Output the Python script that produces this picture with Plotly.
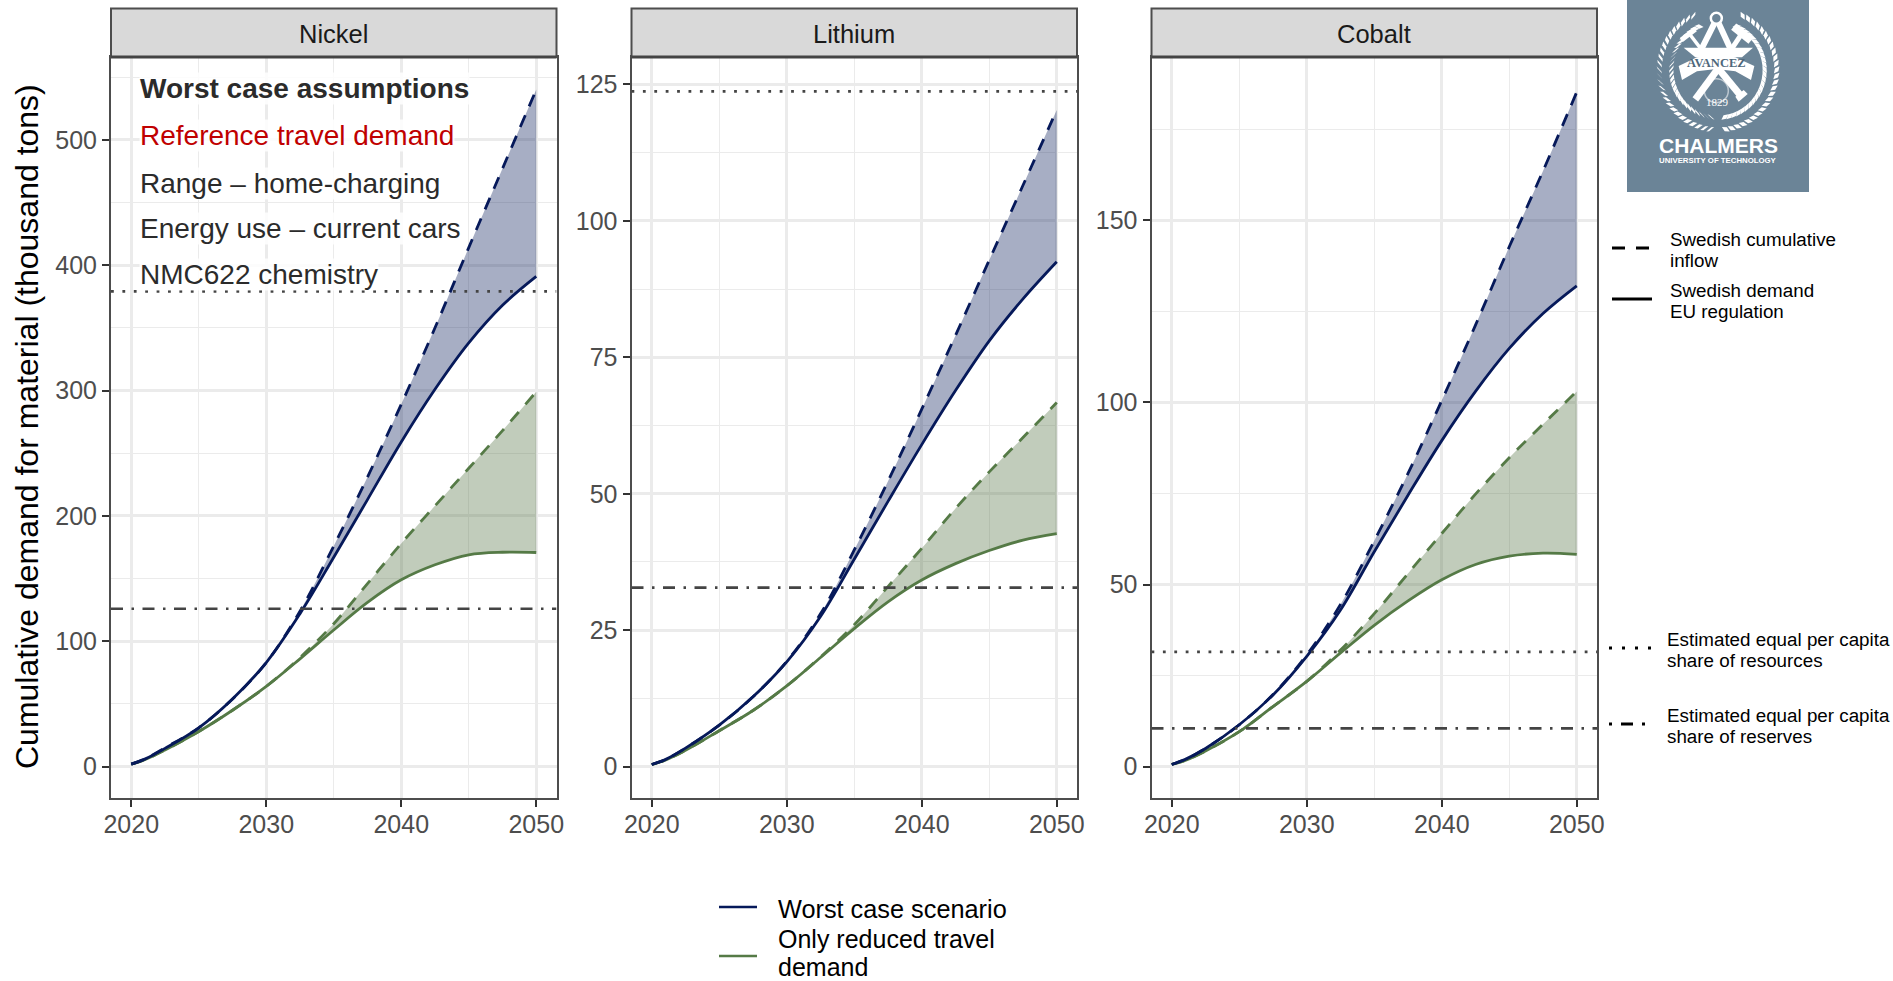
import math
import plotly.graph_objects as go

W, H = 1893, 981

years = [2020, 2021, 2022.5, 2025, 2027.5, 2030, 2032.5, 2035, 2037.5, 2040, 2042.5, 2045, 2047.5, 2050]
materials = ["Nickel", "Lithium", "Cobalt"]

nickel_worst_inflow = [2, 6, 15, 31, 54, 83, 124, 176, 231, 289, 350, 414, 477, 540]
nickel_worst_demand = [2, 6, 14.6, 31, 54, 83, 122, 167, 213, 259, 301, 338, 368, 391]
nickel_travel_inflow = [2, 5.5, 13.3, 28, 45, 64, 87, 114, 146, 178, 208, 238, 268, 299]
nickel_travel_demand = [2, 5.5, 13.3, 28, 45, 64, 86, 109, 131, 149, 161, 169, 171, 170.8]

lithium_worst_inflow = [0.4, 1.3, 3.4, 7.6, 12.8, 19.3, 28, 39.7, 52.3, 65.5, 79, 92.8, 106.5, 120.3]
lithium_worst_demand = [0.4, 1.3, 3.4, 7.6, 12.8, 19.2, 27.5, 38, 48.6, 59, 68.9, 78, 85.7, 92.5]
lithium_travel_inflow = [0.4, 1.2, 3, 6.6, 10.3, 14.8, 20.1, 26, 33, 40, 47.3, 54, 60.3, 66.7]
lithium_travel_demand = [0.4, 1.2, 3, 6.6, 10.3, 14.8, 20, 25.3, 30.2, 34.2, 37.2, 39.6, 41.5, 42.7]

cobalt_worst_inflow = [0.6, 2, 5, 11.5, 19.8, 30.7, 44.5, 62, 80.5, 100.5, 121.2, 142.7, 163.5, 185.2]
cobalt_worst_demand = [0.6, 2, 5, 11.5, 19.7, 30.3, 43, 59, 74.5, 89.5, 103, 114.8, 124.4, 132]
cobalt_travel_inflow = [0.6, 1.7, 4.3, 9.6, 16.5, 23.4, 32, 42, 53, 64, 74.8, 84.8, 94, 103]
cobalt_travel_demand = [0.6, 1.7, 4.3, 9.6, 16.5, 23.4, 31.2, 38.8, 45.5, 51.3, 55.5, 57.8, 58.6, 58.3]

resources_share = [379, 123.7, 31.5]
reserves_share = [126, 32.8, 10.5]

x_span = [2018.5, 2051.5]
y_ranges = [(-25, 566), (-5.73, 130), (-8.6, 194.8)]
y_dticks = [100, 25, 50]
y_minor = [50, 12.5, 25]
panel_px = [(111, 556.5), (631.5, 1077), (1151.5, 1597)]
top_px, strip_top_px, bottom_px = 57, 8.5, 798

NAVY = "#06195A"
GREEN = "#557A46"
NAVY_FILL = "rgba(4,24,87,0.35)"
GREEN_FILL = "rgba(78,109,61,0.35)"
REF = "#444444"
GRID = "#EBEBEB"
FONT = "Liberation Sans"
DOTTED = "2.8px,8.6px"
DASHDOT = "12px,8.5px,2.5px,8.5px"
DASHED = "12.5px,10px"


def px(x):
    return x / W


def py(y):
    return 1 - y / H


series = [
    (nickel_worst_inflow, nickel_worst_demand, nickel_travel_inflow, nickel_travel_demand),
    (lithium_worst_inflow, lithium_worst_demand, lithium_travel_inflow, lithium_travel_demand),
    (cobalt_worst_inflow, cobalt_worst_demand, cobalt_travel_inflow, cobalt_travel_demand),
]

fig = go.Figure()
shapes, annots = [], []


def line_kw(color, dash="solid", width=2.8):
    return dict(color=color, width=width, dash=dash, shape="spline", smoothing=1.0)


for i, mat in enumerate(materials):
    sfx = "" if i == 0 else str(i + 1)
    xa, ya = "x" + sfx, "y" + sfx
    wi, wd, ti, td = series[i]
    common = dict(x=years, xaxis=xa, yaxis=ya, mode="lines", showlegend=False, hoverinfo="skip")
    fig.add_trace(go.Scatter(y=td, line=line_kw(GREEN), **common))
    fig.add_trace(go.Scatter(y=ti, line=line_kw(GREEN, DASHED), fill="tonexty", fillcolor=GREEN_FILL, **common))
    fig.add_trace(go.Scatter(y=wd, line=line_kw(NAVY), **common))
    fig.add_trace(go.Scatter(y=wi, line=line_kw(NAVY, DASHED), fill="tonexty", fillcolor=NAVY_FILL, **common))
    ref_common = dict(x=x_span, xaxis=xa, yaxis=ya, mode="lines", showlegend=False, hoverinfo="skip")
    fig.add_trace(go.Scatter(y=[resources_share[i]] * 2, line=dict(color=REF, width=2.8, dash=DOTTED), **ref_common))
    fig.add_trace(go.Scatter(y=[reserves_share[i]] * 2, line=dict(color=REF, width=2.6, dash=DASHDOT), **ref_common))

    l, r = panel_px[i]
    axis_common = dict(
        showline=True, mirror=True, linecolor="#4D4D4D", linewidth=2,
        showgrid=True, gridcolor=GRID, gridwidth=2.6,
        ticks="outside", ticklen=7, tickwidth=2.2, tickcolor="#333333",
        tickfont=dict(family=FONT, size=25, color="#4D4D4D"),
        zeroline=False, layer="below traces",
    )
    fig.layout["xaxis" + sfx] = dict(
        domain=[px(l), px(r)], range=x_span, anchor=ya, tick0=2020, dtick=10, ticklabelstandoff=-4,
        minor=dict(tick0=2020, dtick=5, showgrid=True, gridcolor=GRID, gridwidth=1.4, ticks=""),
        **axis_common,
    )
    fig.layout["yaxis" + sfx] = dict(
        domain=[py(bottom_px), py(top_px)], range=list(y_ranges[i]), anchor=xa, tick0=0, dtick=y_dticks[i],
        minor=dict(tick0=0, dtick=y_minor[i], showgrid=True, gridcolor=GRID, gridwidth=1.4, ticks=""),
        **axis_common,
    )
    # facet strip
    shapes.append(dict(type="rect", xref="paper", yref="paper", x0=px(l), x1=px(r), y0=py(top_px), y1=py(strip_top_px),
                       fillcolor="#D9D9D9", line=dict(color="#4D4D4D", width=2)))
    shapes.append(dict(type="line", xref="paper", yref="paper", x0=px(l), x1=px(r), y0=py(top_px), y1=py(top_px),
                       line=dict(color="#444444", width=3)))
    annots.append(dict(text=mat, xref="paper", yref="paper", x=px((l + r) / 2), y=py(33.5), showarrow=False,
                       xanchor="center", yanchor="middle", font=dict(family=FONT, size=25.5, color="#1A1A1A")))


def note(text, x, y, size, color="#000000", anchor="left", bg=None, **kw):
    a = dict(text=text, xref="paper", yref="paper", x=px(x), y=py(y), showarrow=False, xanchor=anchor,
             yanchor="middle", align="left", font=dict(family=FONT, size=size, color=color), borderpad=0)
    if bg:
        a["bgcolor"] = bg
    a.update(kw)
    annots.append(a)


BG = "rgba(255,255,255,0.85)"
note("<b>Worst case assumptions</b>", 139, 89, 28, "#2B2B2B", bg=BG)
note("Reference travel demand", 139, 135, 28, "#C00000", bg=BG)
note("Range \u2013 home-charging", 139, 183, 28, "#2B2B2B", bg=BG)
note("Energy use \u2013 current cars", 139, 228.5, 28, "#2B2B2B", bg=BG)
note("NMC622 chemistry", 139, 274, 28, "#2B2B2B", bg=BG)

note("Cumulative demand for material (thousand tons)", 27, 427, 32, "#000000", anchor="center", textangle=-90)


def key(x0, x1, y, color, dash, width=3):
    shapes.append(dict(type="line", xref="paper", yref="paper", x0=px(x0), x1=px(x1), y0=py(y), y1=py(y),
                       line=dict(color=color, width=width, dash=dash)))


key(1612, 1650, 248, "#000000", "13px,11px")
note("Swedish cumulative", 1669, 239.5, 18.8)
note("inflow", 1669, 260, 18.8)
key(1612, 1652, 299, "#000000", "solid")
note("Swedish demand", 1669, 290.5, 18.8)
note("EU regulation", 1669, 311, 18.8)
key(1609, 1651, 648, "#000000", "3px,10px")
note("Estimated equal per capita", 1666, 639, 18.8)
note("share of resources", 1666, 660, 18.8)
key(1609, 1651, 724, "#000000", "3px,9px,12px,9px")
note("Estimated equal per capita", 1666, 715, 18.8)
note("share of reserves", 1666, 736, 18.8)

key(719, 757, 907, NAVY, "solid", 2.6)
note("Worst case scenario", 777, 909, 25.3)
key(719, 757, 956, GREEN, "solid", 2.6)
note("Only reduced travel", 777, 938.5, 25)
note("demand", 777, 966.5, 25)

# Logo panel drawn from vector pieces; z() maps logo-local pixels (3x) to the page
LOGO = "#6B8497"
shapes.append(dict(type="rect", xref="paper", yref="paper", x0=px(1627), x1=px(1809), y0=py(0), y1=py(192),
                   fillcolor=LOGO, line=dict(width=0)))


def z(x, y):
    return 1627 + x / 3, y / 3


def poly(points, fill="#FFFFFF"):
    path = "M " + " L ".join(f"{px(a):.5f},{py(b):.5f}" for a, b in points) + " Z"
    shapes.append(dict(type="path", xref="paper", yref="paper", path=path, fillcolor=fill, line=dict(width=0)))


def seg(p, q, t=4, fill="#FFFFFF"):
    a, b = z(*p)
    c, d = z(*q)
    dx, dy = c - a, d - b
    n = math.hypot(dx, dy) or 1
    ox, oy = -dy / n * t / 2, dx / n * t / 2
    poly([(a + ox, b + oy), (c + ox, d + oy), (c - ox, d - oy), (a - ox, b - oy)], fill)


def ring(p, rad, color="#FFFFFF", width=2.5, fill=LOGO):
    a, b = z(*p)
    shapes.append(dict(type="circle", xref="paper", yref="paper", x0=px(a - rad), x1=px(a + rad),
                       y0=py(b + rad), y1=py(b - rad), fillcolor=fill, line=dict(color=color, width=width)))


# wreath: leaves along two arcs, mirrored
lcx, lcy = 1718, 70
for side in (-1, 1):
    for k in range(26):
        ang = math.radians(4 + k * 5.9)
        for rad, lean in ((49, -0.6), (56, 0.6)):
            bx = lcx + side * rad * math.sin(ang)
            by = lcy + rad * 1.02 * math.cos(ang)
            tx0, ty0 = math.cos(ang), -math.sin(ang)
            cs, sn = math.cos(lean), math.sin(lean)
            ux = tx0 * cs - ty0 * sn
            uy = ty0 * cs + tx0 * sn
            ex, ey = bx + side * 9 * ux, by + 9 * uy
            mx, my = (bx + ex) / 2, (by + ey) / 2
            nx, ny = -uy * 2.2, ux * 2.2
            poly([(bx, by), (mx + nx, my + ny), (ex, ey), (mx - nx, my - ny)])

# gear behind the tools
ring((268, 272), 12, "rgba(255,255,255,0.55)", 1.5, "rgba(0,0,0,0)")
# lower tools
seg((300, 170), (205, 298), 7)
seg((245, 170), (345, 292), 7)
poly([z(335, 305), z(362, 282), z(350, 270), z(325, 290)])
# compass legs and ring
seg((262, 70), (222, 150), 6)
seg((275, 70), (312, 150), 6)
ring((268, 55), 5.5)
# hammers
seg((190, 105), (255, 190), 3.5)
seg((163, 120), (205, 88), 5)
seg((345, 100), (285, 190), 5)
seg((320, 80), (372, 122), 8)
# star bar
poly([z(170, 143), z(378, 143), z(345, 172), z(205, 172)])
# banner
poly([z(155, 198), z(210, 172), z(268, 165), z(325, 172), z(382, 198),
      z(372, 240), z(325, 214), z(268, 207), z(210, 214), z(165, 240)])

ax, ay = z(268, 189)
annots.append(dict(text="<b>AVANCEZ</b>", xref="paper", yref="paper", x=px(ax), y=py(ay), showarrow=False,
                   xanchor="center", yanchor="middle", font=dict(family="Liberation Serif", size=12.5, color="#4F687B")))
ax, ay = z(272, 307)
annots.append(dict(text="1829", xref="paper", yref="paper", x=px(ax), y=py(ay), showarrow=False,
                   xanchor="center", yanchor="middle", font=dict(family="Liberation Serif", size=11, color="#FFFFFF")))
annots.append(dict(text="<b>CHALMERS</b>", xref="paper", yref="paper", x=px(1718), y=py(145.7), showarrow=False,
                   xanchor="center", yanchor="middle", font=dict(family=FONT, size=21, color="#FFFFFF")))
annots.append(dict(text="<b>UNIVERSITY OF TECHNOLOGY</b>", xref="paper", yref="paper", x=px(1718), y=py(160.7),
                   showarrow=False, xanchor="center", yanchor="middle",
                   font=dict(family=FONT, size=7.8, color="#FFFFFF")))

fig.update_layout(
    width=W, height=H, margin=dict(l=0, r=0, t=0, b=0, autoexpand=False),
    paper_bgcolor="white", plot_bgcolor="white", showlegend=False,
    shapes=shapes, annotations=annots,
)

fig.write_html(
    "out.html",
    config={"displayModeBar": False},
    post_script="document.body.style.margin='0';document.documentElement.style.overflow='hidden';",
)
